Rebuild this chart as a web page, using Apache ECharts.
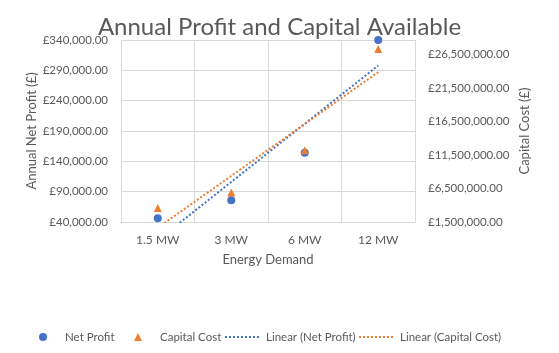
<!DOCTYPE html>
<html>
<head>
<meta charset="utf-8">
<script src="https://cdn.jsdelivr.net/npm/echarts@6/dist/echarts.min.js"></script>
<style>
  html, body { margin: 0; padding: 0; background: #fff; }
  #chart { width: 559px; height: 353px; }
</style>
</head>
<body>
<div id="chart"></div>
<script>
// data
const categories = ['1.5 MW', '3 MW', '6 MW', '12 MW']
const netProfit = [46000, 76000, 154000, 340000]
const capitalCost = [3600000, 5900000, 12200000, 27300000]

// least squares trend over category index 1..n, like Excel's linear trendline
function linearTrend(values) {
  const n = values.length
  const xs = values.map((v, i) => i + 1)
  const mx = xs.reduce((a, b) => a + b, 0) / n
  const my = values.reduce((a, b) => a + b, 0) / n
  let sxy = 0
  let sxx = 0
  for (let i = 0; i < n; i++) {
    sxy += (xs[i] - mx) * (values[i] - my)
    sxx += (xs[i] - mx) * (xs[i] - mx)
  }
  const slope = sxy / sxx
  return xs.map(x => my + slope * (x - mx))
}

const money = v => '£' + v.toLocaleString('en-GB', { minimumFractionDigits: 2, maximumFractionDigits: 2 })

const blue = '#4472C4'
const orange = '#ED7D31'
const gridColor = '#D9D9D9'
const textColor = '#595959'
const font = 'Lato'

// one legend per entry so each sits where Excel put it
function legendAt(name, left, width, extraPad) {
  return {
    left: left,
    top: 331,
    padding: 0,
    itemWidth: width,
    itemHeight: 8,
    textStyle: { fontFamily: font, fontSize: 11.5, color: textColor, padding: [0, 0, 0, extraPad] },
    data: [name.indexOf('Linear') === 0 ? { name: name, itemStyle: { opacity: 0 } } : name]
  }
}

const chart = echarts.init(document.getElementById('chart'))
chart.setOption({
  animation: false,
  textStyle: { fontFamily: font },
  title: {
    text: 'Annual Profit and Capital Available',
    left: 'center',
    top: 10,
    textStyle: { fontFamily: font, fontSize: 24, fontWeight: 'normal', color: textColor }
  },
  grid: { left: 121, right: 144, top: 40, bottom: 131 },
  legend: [
    legendAt('Net Profit', 39, 8, 13),
    legendAt('Capital Cost', 134, 8, 13),
    legendAt('Linear (Net Profit)', 224, 36, 0),
    legendAt('Linear (Capital Cost)', 358, 36, 0)
  ],
  xAxis: {
    type: 'category',
    data: categories,
    boundaryGap: true,
    name: 'Energy Demand',
    nameLocation: 'middle',
    nameGap: 31,
    nameTextStyle: { fontSize: 13, color: textColor },
    axisLine: { lineStyle: { color: gridColor } },
    axisTick: { show: false },
    axisLabel: { margin: 12, fontSize: 12, color: textColor },
    splitLine: { show: true, lineStyle: { color: gridColor } }
  },
  yAxis: [
    {
      type: 'value',
      min: 40000,
      max: 340000,
      interval: 50000,
      name: 'Annual Net Profit (£)',
      nameLocation: 'middle',
      nameRotate: 90,
      nameGap: 83,
      nameMoveOverlap: false,
      nameTextStyle: { fontSize: 13, color: textColor },
      axisLine: { show: false },
      axisTick: { show: false },
      axisLabel: { margin: 13, fontSize: 11.5, color: textColor, formatter: money },
      splitLine: { show: true, lineStyle: { color: gridColor } }
    },
    {
      type: 'value',
      position: 'right',
      min: 1500000,
      max: 28650000,
      interval: 5000000,
      name: 'Capital Cost (£)',
      nameLocation: 'middle',
      nameRotate: 90,
      nameGap: 103,
      nameMoveOverlap: false,
      nameTextStyle: { fontSize: 13, color: textColor },
      axisLine: { show: false },
      axisTick: { show: false },
      axisLabel: { margin: 13, fontSize: 11.5, color: textColor, formatter: money, showMaxLabel: false },
      splitLine: { show: false }
    }
  ],
  series: [
    {
      name: 'Net Profit',
      type: 'scatter',
      yAxisIndex: 0,
      symbol: 'circle',
      symbolSize: 8,
      clip: false,
      itemStyle: { color: blue, opacity: 1 },
      data: netProfit
    },
    {
      name: 'Capital Cost',
      type: 'scatter',
      yAxisIndex: 1,
      symbol: 'triangle',
      symbolSize: 8,
      clip: false,
      itemStyle: { color: orange, opacity: 1 },
      data: capitalCost
    },
    {
      name: 'Linear (Net Profit)',
      type: 'line',
      yAxisIndex: 0,
      symbol: 'none',
      clip: true,
      lineStyle: { color: blue, width: 2, type: [2, 2] },
      itemStyle: { color: blue },
      data: linearTrend(netProfit)
    },
    {
      name: 'Linear (Capital Cost)',
      type: 'line',
      yAxisIndex: 1,
      symbol: 'none',
      clip: true,
      lineStyle: { color: orange, width: 2, type: [2, 2] },
      itemStyle: { color: orange },
      data: linearTrend(capitalCost)
    }
  ]
})
</script>
</body>
</html>
